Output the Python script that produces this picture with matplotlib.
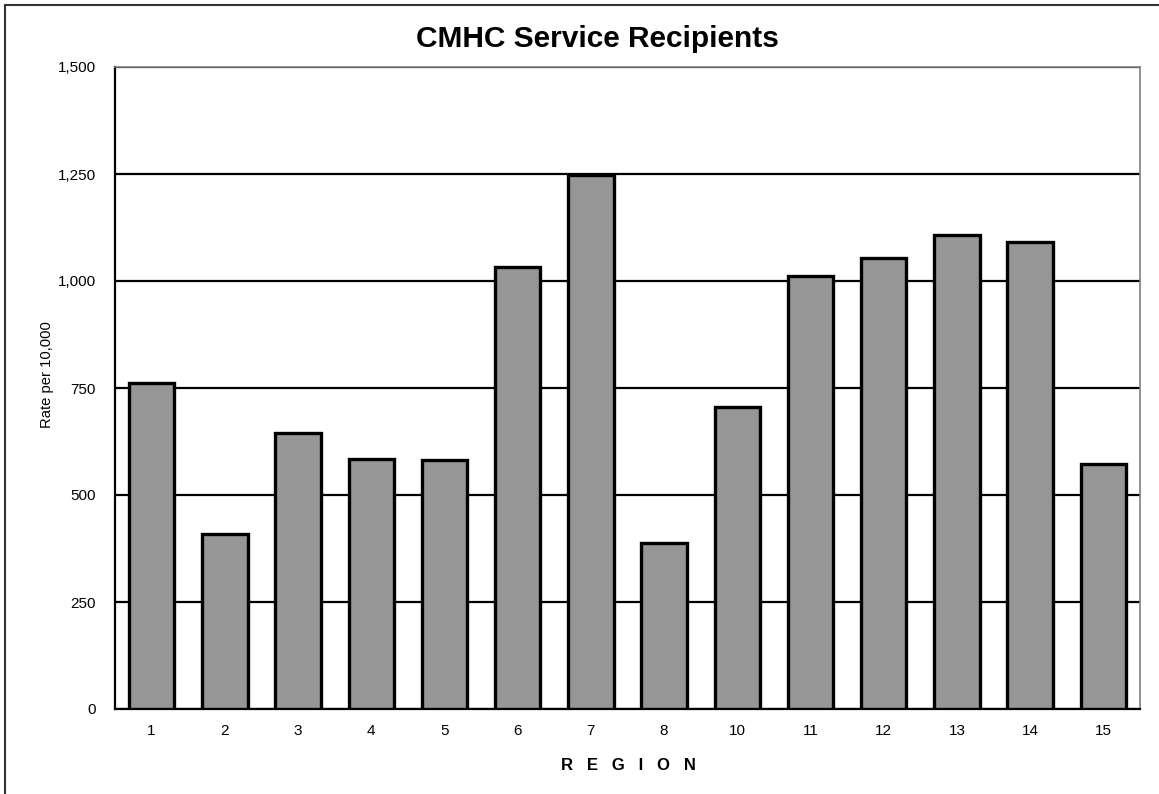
import matplotlib.pyplot as plt
from matplotlib.patches import Rectangle
from matplotlib.ticker import FuncFormatter

regions = ["1", "2", "3", "4", "5", "6", "7", "8", "10", "11", "12", "13", "14", "15"]
rates = [762, 408, 646, 584, 581, 1033, 1248, 389, 706, 1011, 1053, 1107, 1090, 572]
y_ticks = [0, 250, 500, 750, 1000, 1250, 1500]

plt.rcParams["font.family"] = ["Liberation Sans", "DejaVu Sans"]

fig = plt.figure(figsize=(11.59, 7.94), dpi=100)
ax = fig.add_axes([115 / 1159, 1 - 709 / 794, 1025 / 1159, 642 / 794])

# outer chart border
fig.patches.append(Rectangle((5 / 1159, -0.05), 1.1, 1 - 5 / 794 + 0.05,
                             transform=fig.transFigure, fill=False,
                             edgecolor="#333333", linewidth=1.5))

x = range(len(regions))
ax.bar(x, rates, width=0.62, color="#969696", edgecolor="black", linewidth=2.4, zorder=3)

ax.set_xlim(-0.5, len(regions) - 0.5)
ax.set_ylim(0, 1500)
ax.set_yticks(y_ticks)
ax.yaxis.set_major_formatter(FuncFormatter(lambda v, p: f"{int(v):,}"))
ax.set_xticks(list(x))
ax.set_xticklabels(regions)
ax.tick_params(axis="both", length=0, labelsize=11)
ax.tick_params(axis="x", pad=11)
ax.tick_params(axis="y", pad=14)

ax.grid(axis="y", color="black", linewidth=1.6, zorder=1)
ax.set_axisbelow(True)

for s in ["left", "bottom"]:
    ax.spines[s].set_color("black")
    ax.spines[s].set_linewidth(1.6)
for s in ["top", "right"]:
    ax.spines[s].set_color("#808080")
    ax.spines[s].set_linewidth(1.2)

fig.text(597 / 1159, 1 - 39 / 794, "CMHC Service Recipients", ha="center", va="center",
         fontsize=21.5, fontweight="bold")
fig.text(47 / 1159, 1 - 375 / 794, "Rate per 10,000", ha="center", va="center",
         rotation=90, fontsize=10.6)
fig.text(628 / 1159, 1 - 766 / 794, "R   E   G   I   O   N", ha="center", va="center",
         fontsize=12, fontweight="bold")

fig.savefig("out.png", dpi=100)
